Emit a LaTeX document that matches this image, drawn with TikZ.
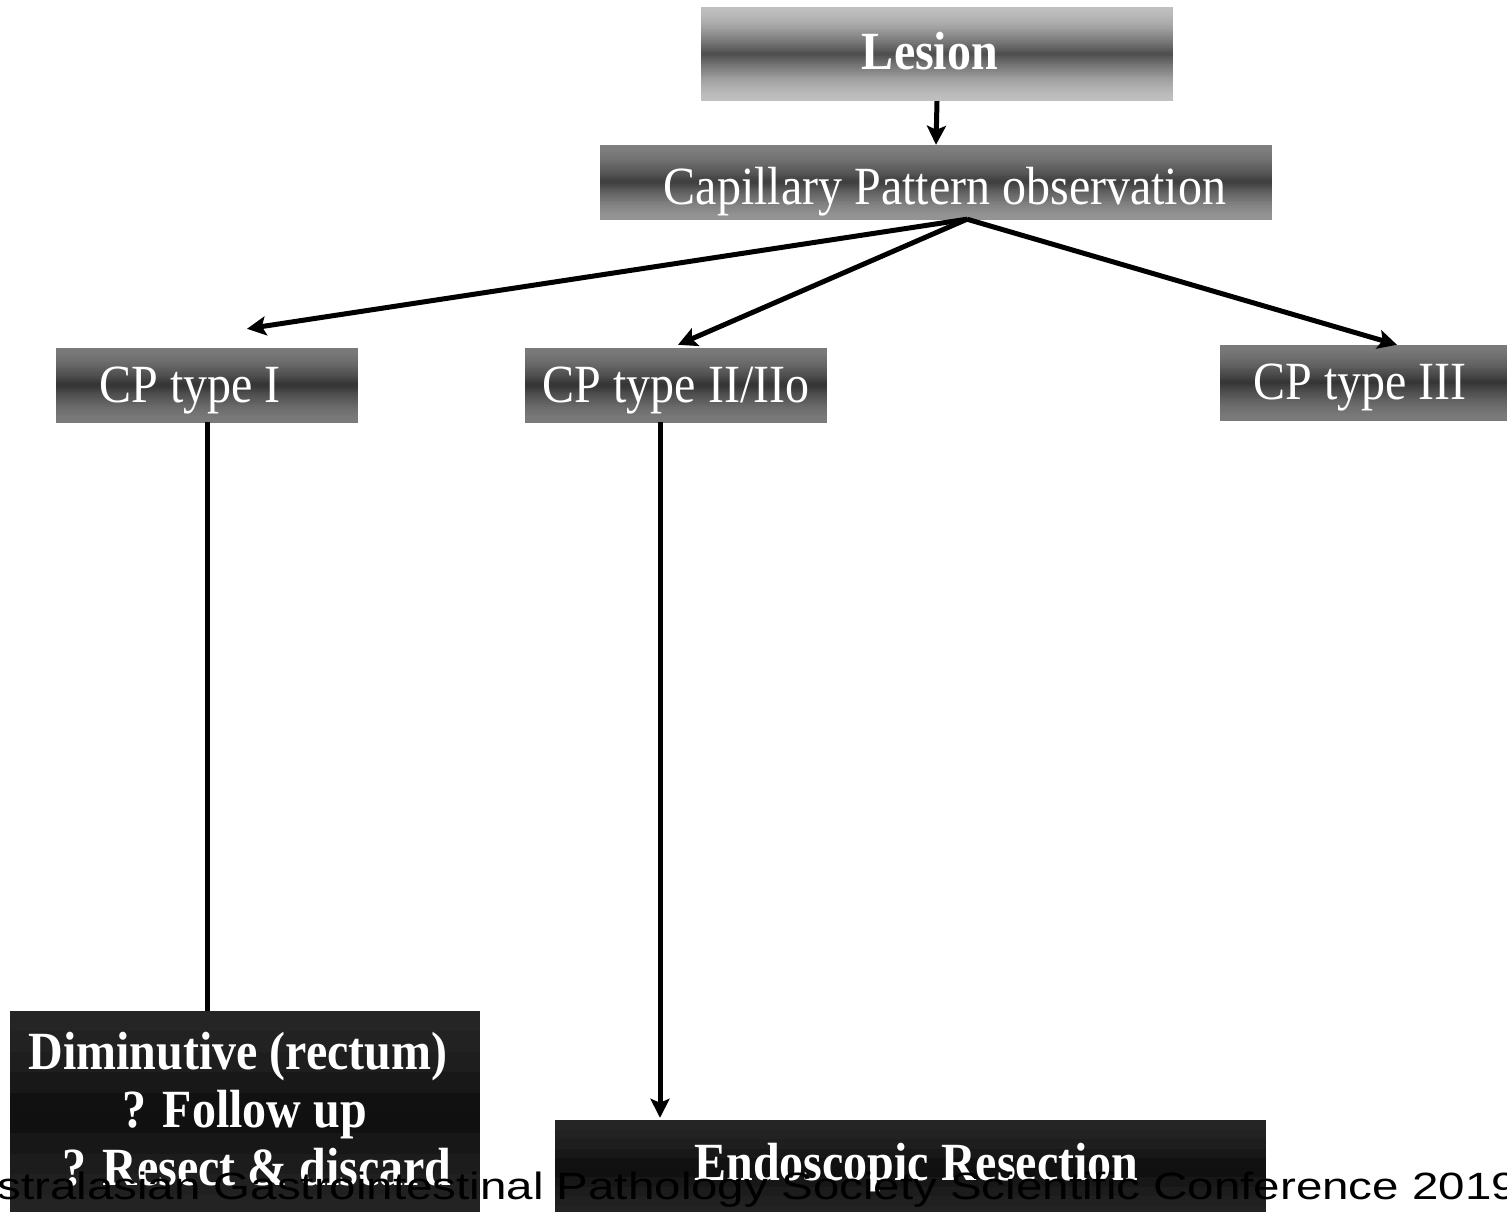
\documentclass[tikz,border=0pt]{standalone}
\usepackage{fontspec}
\setmainfont{Liberation Serif}
\newfontfamily\footfont{Liberation Sans}
\usetikzlibrary{arrows.meta,calc}

% taller box lettering and flatter footer lettering
\newcommand\tallt[1]{\scalebox{1}[1.12]{#1}}
\newcommand\flatt[1]{\scalebox{1}[0.8]{#1}}

\definecolor{lesEdge}{gray}{0.75}
\definecolor{lesMid}{gray}{0.30}
\definecolor{capTop}{gray}{0.50}
\definecolor{capMid}{gray}{0.24}
\definecolor{capBot}{gray}{0.58}
\definecolor{cpEdge}{gray}{0.48}
\definecolor{cpMid}{gray}{0.20}
\definecolor{darkTop}{gray}{0.15}
\definecolor{darkMid}{gray}{0.05}
\definecolor{darkBot}{gray}{0.14}

\tikzset{
  % horizontal bands: #1 top colour, #2 middle colour, #3 bottom colour, #4 number of bands
  banded/.style n args={4}{path picture={
    \foreach \i in {1,...,#4}{
      \pgfmathsetmacro\tA{(\i-1)/#4}
      \pgfmathsetmacro\tB{\i/#4}
      \pgfmathsetmacro\tm{(\i-0.5)/#4}
      \pgfmathsetmacro\w{100*(1-abs(2*\tm-1))^1.6}
      \ifdim\tm pt<0.5pt
        \colorlet{bandcol}{#2!\w!#1}
      \else
        \colorlet{bandcol}{#2!\w!#3}
      \fi
      \fill[bandcol]
        ($(path picture bounding box.north west)!\tA!(path picture bounding box.south west)$)
        rectangle ([yshift=-0.6pt]$(path picture bounding box.north east)!\tB!(path picture bounding box.south east)$);
    }}},
  box/.style={inner sep=0pt, text=white, font=\fontsize{48}{58}\selectfont, align=center},
  lightbox/.style={box, banded={lesEdge}{lesMid}{lesEdge}{48}},
  midbox/.style={box, banded={capTop}{capMid}{capBot}{40}},
  cpbox/.style={box, banded={cpEdge}{cpMid}{cpEdge}{40}},
  darkbox/.style={box, font=\fontsize{48}{58}\selectfont\bfseries, banded={darkTop}{darkMid}{darkBot}{10}},
  conn/.style={line width=5pt, -{Stealth[length=19pt,width=19pt,inset=4pt]}},
  plainline/.style={line width=5pt}
}

\begin{document}
\begin{tikzpicture}[x=1pt, y=-1pt]
  \useasboundingbox (0,0) rectangle (1507,1212);
  \clip (0,0) rectangle (1507,1212);
  \fill[white] (0,0) rectangle (1507,1212);

  % decision boxes
  \node[lightbox, minimum width=472pt, minimum height=94pt, text height=34pt, text depth=2pt,
        font=\fontsize{48}{58}\selectfont\bfseries]
    (lesion) at (937,54) {\tallt{Lesion}\hspace*{14pt}};
  \node[midbox, minimum width=672pt, minimum height=74pt, text height=46pt, text depth=2pt]
    (cap) at (936,182) {\hspace*{18pt}\tallt{Capillary Pattern observation}};
  \node[cpbox, minimum width=302pt, minimum height=74pt, text height=36pt, text depth=2pt]
    (cp1) at (207,385) {\tallt{CP type I}\hspace*{34pt}};
  \node[cpbox, minimum width=302pt, minimum height=74pt, text height=36pt, text depth=2pt]
    (cp2) at (676,385) {\tallt{CP type II/IIo}};
  \node[cpbox, minimum width=290pt, minimum height=75pt, text height=36pt, text depth=2pt]
    (cp3) at (1365,382.5) {\tallt{CP type III}\hspace*{10pt}};

  % outcome boxes
  \node[darkbox, minimum width=470pt, minimum height=204pt]
    (dim) at (245,1113) {\tallt{Diminutive (rectum)}\hspace*{14pt}\\ \tallt{? Follow up}\\
      \hspace*{24pt}\tallt{? Resect \& discard}\rule[-8pt]{0pt}{8pt}};
  \node[darkbox, minimum width=711pt, minimum height=95pt, text height=27pt, text depth=2pt]
    (endo) at (910.5,1167.5) {\hspace*{12pt}\tallt{Endoscopic Resection}};

  % connectors
  \draw[conn] (lesion.south) -- (cap.north);
  \coordinate (fan) at ([xshift=31pt]cap.south);
  \draw[conn] (fan) -- ([xshift=40pt,yshift=19pt]cp1.north);
  \draw[conn] (fan) -- ([xshift=2pt,yshift=3pt]cp2.north);
  \draw[conn] (fan) -- ([xshift=32pt]cp3.north);
  \draw[plainline] (cp1.south) -- (cp1.south |- dim.north);
  \draw[conn] ([xshift=-16pt]cp2.south) -- ([xshift=-16pt,yshift=2pt]cp2.south |- endo.north);

  % footer line
  \node[anchor=base west, inner sep=0pt, text=black, font=\footfont\fontsize{47.5}{50}\selectfont]
    (footer) at (-61,1199) {\flatt{Australasian Gastrointestinal Pathology Society Scientific Conference 2019}};
\end{tikzpicture}
\end{document}
